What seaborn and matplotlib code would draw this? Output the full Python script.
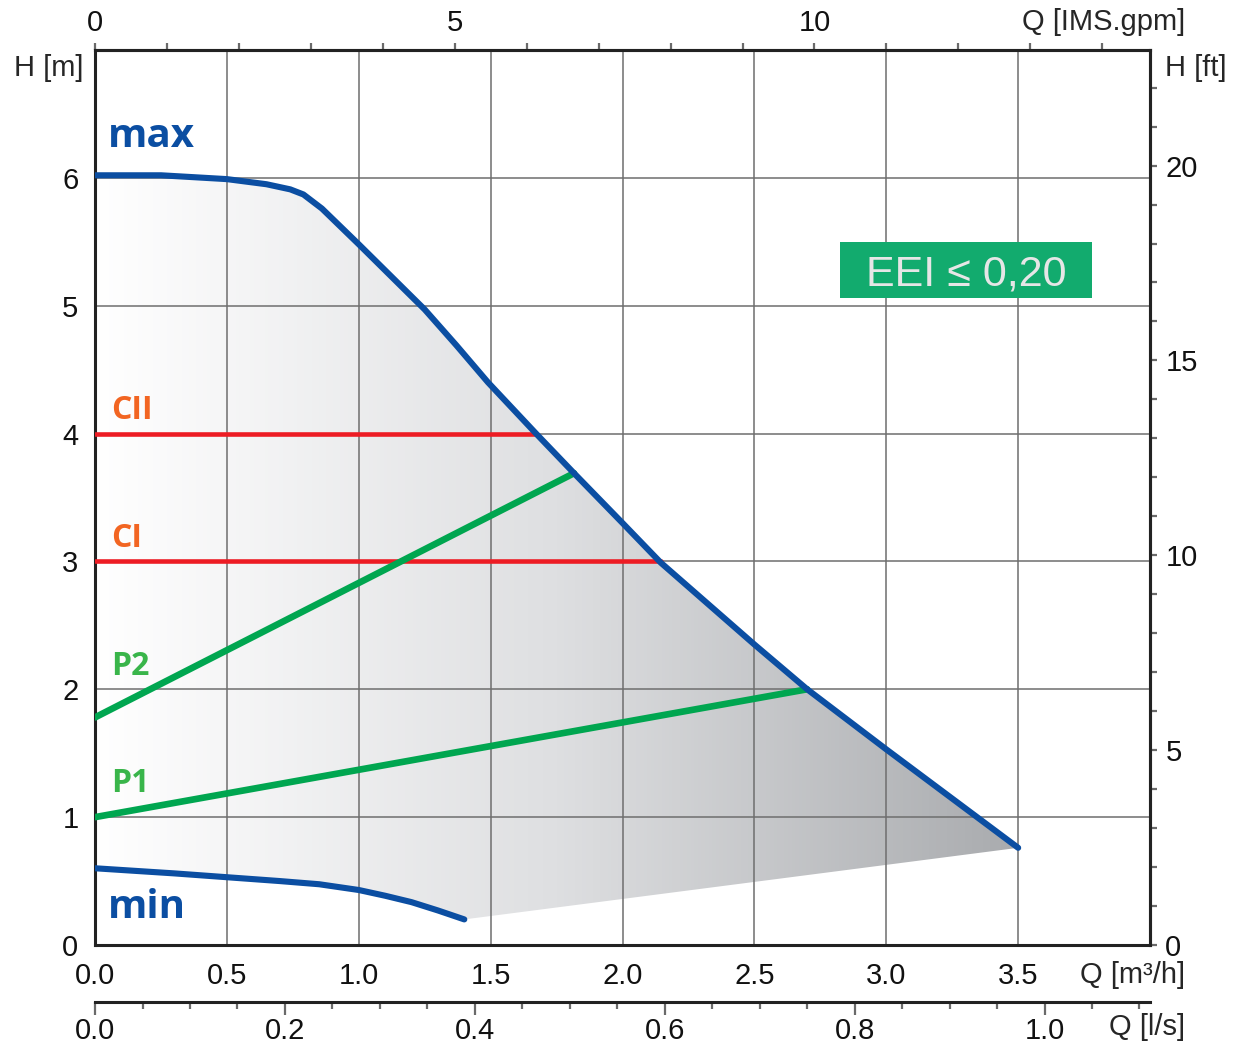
import numpy as np
import pandas as pd
import matplotlib
matplotlib.use("Agg")
import matplotlib.pyplot as plt
import seaborn as sns
from matplotlib.patches import Polygon, Rectangle
from matplotlib.colors import LinearSegmentedColormap
from matplotlib.ticker import MultipleLocator, FixedLocator, FormatStrFormatter

# curves (Q in m3/h, H in m)
max_q = [0.0, 0.25, 0.5, 0.65, 0.74, 0.79, 0.86, 1.0, 1.25, 1.37, 1.49, 1.672, 1.816, 2.0, 2.145, 2.5, 2.70, 3.0, 3.5]
max_h = [6.02, 6.02, 5.99, 5.95, 5.91, 5.87, 5.76, 5.48, 4.97, 4.69, 4.40, 4.0, 3.69, 3.30, 2.99, 2.35, 2.0, 1.53, 0.76]
min_q = [0.0, 0.3, 0.5, 0.7, 0.85, 1.0, 1.1, 1.2, 1.3, 1.4]
min_h = [0.6, 0.56, 0.53, 0.50, 0.475, 0.43, 0.385, 0.335, 0.27, 0.2]

cii_q, cii_h = [0.0, 1.672], [4.0, 4.0]
ci_q, ci_h = [0.0, 2.145], [3.0, 3.0]
p2_q, p2_h = [0.0, 1.816], [1.78, 3.69]
p1_q, p1_h = [0.0, 2.70], [1.0, 2.0]

blue = "#0b4ea2"
red = "#ed1c24"
green = "#00a650"
orange = "#f26522"
lgreen = "#39b54a"

sns.set_theme(style="white")
plt.rcParams["font.family"] = ["Liberation Sans", "DejaVu Sans"]

fig = plt.figure(figsize=(12.41, 10.48), dpi=100)
ax = fig.add_axes([0.0766, 0.0983, 0.8501, 0.854])
ax.set_xlim(0, 4.0)
ax.set_ylim(0, 7.0)

# shaded operating area with horizontal gradient
poly_pts = [(0.0, min_h[0])] + list(zip(max_q, max_h)) + list(zip(min_q[::-1], min_h[::-1]))
clip = Polygon(poly_pts, closed=True, transform=ax.transData, facecolor="none", edgecolor="none")
ax.add_patch(clip)
cmap = LinearSegmentedColormap.from_list("shade", ["#ffffff", "#dedfe1", "#a9abae"])
grad = np.linspace(0, 1, 256).reshape(1, -1)
img = ax.imshow(grad, extent=[0, 3.5, 0, 7], aspect="auto", cmap=cmap, zorder=0, origin="lower")
img.set_clip_path(clip)

ax.set_axisbelow("line")
ax.grid(True, which="major", color="#6e6e6e", linewidth=1.1)

df_max = pd.DataFrame({"Q": max_q, "H": max_h})
df_min = pd.DataFrame({"Q": min_q, "H": min_h})
sns.lineplot(data=df_max, x="Q", y="H", ax=ax, color=blue, linewidth=4.4, sort=False,
             estimator=None, solid_capstyle="round", solid_joinstyle="round", zorder=5)
sns.lineplot(data=df_min, x="Q", y="H", ax=ax, color=blue, linewidth=4.4, sort=False,
             estimator=None, solid_capstyle="round", solid_joinstyle="round", zorder=5)
ax.plot(cii_q, cii_h, color=red, lw=3.3, solid_capstyle="round", zorder=4)
ax.plot(ci_q, ci_h, color=red, lw=3.3, solid_capstyle="round", zorder=4)
ax.plot(p2_q, p2_h, color=green, lw=4.8, solid_capstyle="round", zorder=4)
ax.plot(p1_q, p1_h, color=green, lw=4.8, solid_capstyle="round", zorder=4)

lab_font = ["Open Sans", "DejaVu Sans"]
ax.text(0.05, 6.24, "max", color=blue, fontsize=29, fontweight="bold", family=lab_font, va="baseline")
ax.text(0.05, 0.21, "min", color=blue, fontsize=29, fontweight="bold", family=lab_font, va="baseline")
ax.text(0.06, 4.11, "CII", color=orange, fontsize=23, fontweight="bold", family=lab_font, va="baseline")
ax.text(0.06, 3.11, "CI", color=orange, fontsize=23, fontweight="bold", family=lab_font, va="baseline")
ax.text(0.06, 2.11, "P2", color=lgreen, fontsize=23, fontweight="bold", family=lab_font, va="baseline")
ax.text(0.06, 1.20, "P1", color=lgreen, fontsize=23, fontweight="bold", family=lab_font, va="baseline")

# EEI badge
ax.add_patch(Rectangle((0.706, 0.723), 0.239, 0.0625, transform=ax.transAxes,
                       facecolor="#12ab6e", edgecolor="none", zorder=6))
ax.text(0.8255, 0.7545, "EEI \u2264 0,20", color="#e6e6e6", fontsize=31, ha="center", va="center_baseline",
        transform=ax.transAxes, zorder=7)

ax.set_xlabel("")
ax.set_ylabel("")

for s in ax.spines.values():
    s.set_linewidth(2.2)
    s.set_color("#222222")

fs = 21
tick_kw = dict(labelsize=fs, colors="#6a6a6a", labelcolor="#111111", width=1.6)
minor_kw = dict(colors="#6a6a6a", width=1.6)
ax.xaxis.set_major_locator(FixedLocator(np.arange(0, 3.51, 0.5)))
ax.xaxis.set_minor_locator(MultipleLocator(0.1))
ax.xaxis.set_major_formatter(FormatStrFormatter("%.1f"))
ax.yaxis.set_major_locator(FixedLocator(np.arange(0, 6.1, 1)))
ax.yaxis.set_minor_locator(MultipleLocator(0.2))
ax.tick_params(axis="x", which="major", direction="out", length=9, pad=3, **tick_kw)
ax.tick_params(axis="x", which="minor", direction="out", length=5, **minor_kw)
ax.tick_params(axis="y", which="major", direction="out", length=9, pad=3, **tick_kw)
ax.tick_params(axis="y", which="minor", direction="out", length=5.5, **minor_kw)

# top axis: imperial gpm
top = ax.secondary_xaxis("top", functions=(lambda q: q * 3.666, lambda g: g / 3.666))
top.xaxis.set_major_locator(FixedLocator([0, 5, 10]))
top.xaxis.set_minor_locator(MultipleLocator(1))
top.tick_params(which="major", direction="out", length=5, pad=4, **tick_kw)
top.tick_params(which="minor", direction="out", length=5, **minor_kw)

# right axis: feet
right = ax.secondary_yaxis("right", functions=(lambda h: h * 3.2808, lambda f: f / 3.2808))
right.yaxis.set_major_locator(FixedLocator([0, 5, 10, 15, 20]))
right.yaxis.set_minor_locator(MultipleLocator(1))
right.tick_params(which="major", direction="out", length=5, pad=6, **tick_kw)
right.tick_params(which="minor", direction="out", length=5, **minor_kw)

# second bottom axis: l/s
ls = ax.secondary_xaxis(-0.0637, functions=(lambda q: q / 3.6, lambda v: v * 3.6))
ls.xaxis.set_major_locator(FixedLocator([0, 0.2, 0.4, 0.6, 0.8, 1.0]))
ls.xaxis.set_minor_locator(MultipleLocator(0.05))
ls.xaxis.set_major_formatter(FormatStrFormatter("%.1f"))
ls.tick_params(which="major", direction="out", length=9, pad=1.5, **tick_kw)
ls.tick_params(which="minor", direction="out", length=5, **minor_kw)
for sp in [top, right, ls]:
    for s in sp.spines.values():
        s.set_linewidth(2.2)
        s.set_color("#222222")

fig.text(0.0669, 0.935, "H [m]", ha="right", va="center", fontsize=fs)
fig.text(0.9549, 0.979, "Q [IMS.gpm]", ha="right", va="center", fontsize=fs)
fig.text(0.9388, 0.935, "H [ft]", ha="left", va="center", fontsize=fs)
fig.text(0.9549, 0.0697, "Q [m\u00b3/h]", ha="right", va="center", fontsize=fs)
fig.text(0.9549, 0.0200, "Q [l/s]", ha="right", va="center", fontsize=fs)

fig.savefig("out.png", dpi=100)
